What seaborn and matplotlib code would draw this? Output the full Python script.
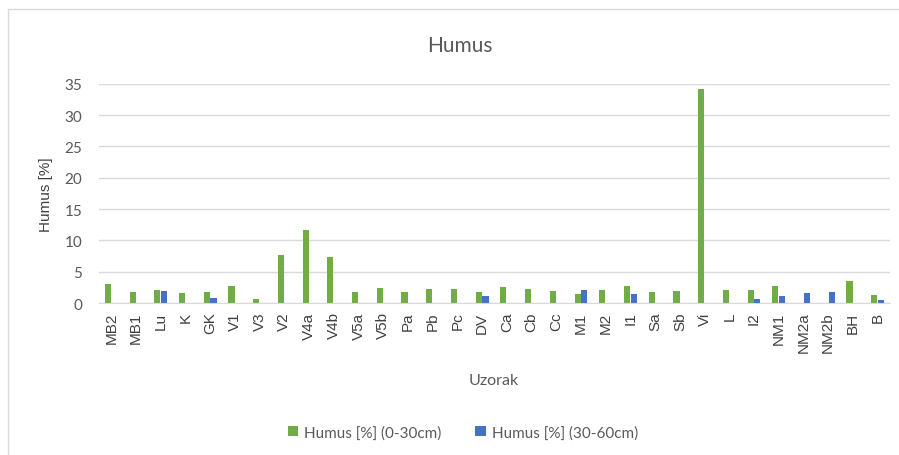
import numpy as np
import pandas as pd
import seaborn as sns
import matplotlib.pyplot as plt
from matplotlib.patches import Rectangle

# Podaci
uzorci = ['MB2', 'MB1', 'Lu', 'K', 'GK', 'V1', 'V3', 'V2', 'V4a', 'V4b', 'V5a', 'V5b',
          'Pa', 'Pb', 'Pc', 'DV', 'Ca', 'Cb', 'Cc', 'M1', 'M2', 'I1', 'Sa', 'Sb',
          'Vi', 'L', 'I2', 'NM1', 'NM2a', 'NM2b', 'BH', 'B']
humus_0_30 = [3.1, 1.85, 2.1, 1.55, 1.85, 2.75, 0.6, 7.7, 11.6, 7.4, 1.7, 2.45,
              1.8, 2.25, 2.25, 1.7, 2.6, 2.25, 1.95, 1.5, 2.1, 2.75, 1.8, 1.95,
              34.2, 2.1, 2.1, 2.75, np.nan, np.nan, 3.5, 1.35]
humus_30_60 = [np.nan, np.nan, 2.0, np.nan, 0.75, np.nan, np.nan, np.nan, np.nan, np.nan, np.nan, np.nan,
               np.nan, np.nan, np.nan, 1.15, np.nan, np.nan, np.nan, 2.1, np.nan, 1.5, np.nan, np.nan,
               np.nan, np.nan, 0.6, 1.2, 1.55, 1.7, np.nan, 0.45]
serije = ['Humus [%] (0-30cm)', 'Humus [%] (30-60cm)']

df = pd.DataFrame({'Uzorak': uzorci, serije[0]: humus_0_30, serije[1]: humus_30_60})
df = df.melt(id_vars='Uzorak', var_name='Serija', value_name='Humus')

siva = '#595959'
plt.rcParams['font.family'] = ['Lato', 'DejaVu Sans']

fig = plt.figure(figsize=(8.99, 4.56), dpi=100)
ax = fig.add_axes([0.110, 0.333, 0.880, 0.481])

sns.barplot(data=df, x='Uzorak', y='Humus', hue='Serija', order=uzorci,
            hue_order=serije, palette=['#70AD47', '#4472C4'],
            width=0.55, gap=0.1, ax=ax, saturation=1)

ax.set_ylim(0, 35)
ax.set_yticks(range(0, 36, 5))
ax.grid(axis='y', color='#D9D9D9', linewidth=1)
ax.set_axisbelow(True)
for s in ['top', 'right', 'left']:
    ax.spines[s].set_visible(False)
ax.spines['bottom'].set_color('#D9D9D9')
ax.tick_params(axis='both', length=0, colors=siva)
ax.tick_params(axis='y', labelsize=11, pad=12)
ax.tick_params(axis='x', labelsize=11, rotation=90, pad=6)
for lbl in ax.get_xticklabels():
    lbl.set_family(['Liberation Sans', 'DejaVu Sans'])
    lbl.set_color('#404040')

ax.set_xlabel('')
ax.set_ylabel('Humus [%]', fontsize=11, color='#404040', labelpad=8,
              family=['Liberation Sans', 'DejaVu Sans'])
fig.text(0.512, 0.90, 'Humus', ha='center', va='center', fontsize=15, color=siva)
fig.text(0.549, 0.164, 'Uzorak', ha='center', va='center', fontsize=11.5, color=siva)

handles, labels = ax.get_legend_handles_labels()
ax.legend_.remove()
fig.legend(handles, labels, loc='center', bbox_to_anchor=(0.515, 0.05), ncol=2,
           frameon=False, fontsize=11, labelcolor=siva, handlelength=0.7,
           handleheight=0.7, handletextpad=0.4, columnspacing=2.2)

fig.patches.append(Rectangle((0.009, -0.01), 1.0, 0.988, transform=fig.transFigure,
                             fill=False, edgecolor='#D9D9D9', linewidth=1))

plt.savefig('out.png', dpi=100)
